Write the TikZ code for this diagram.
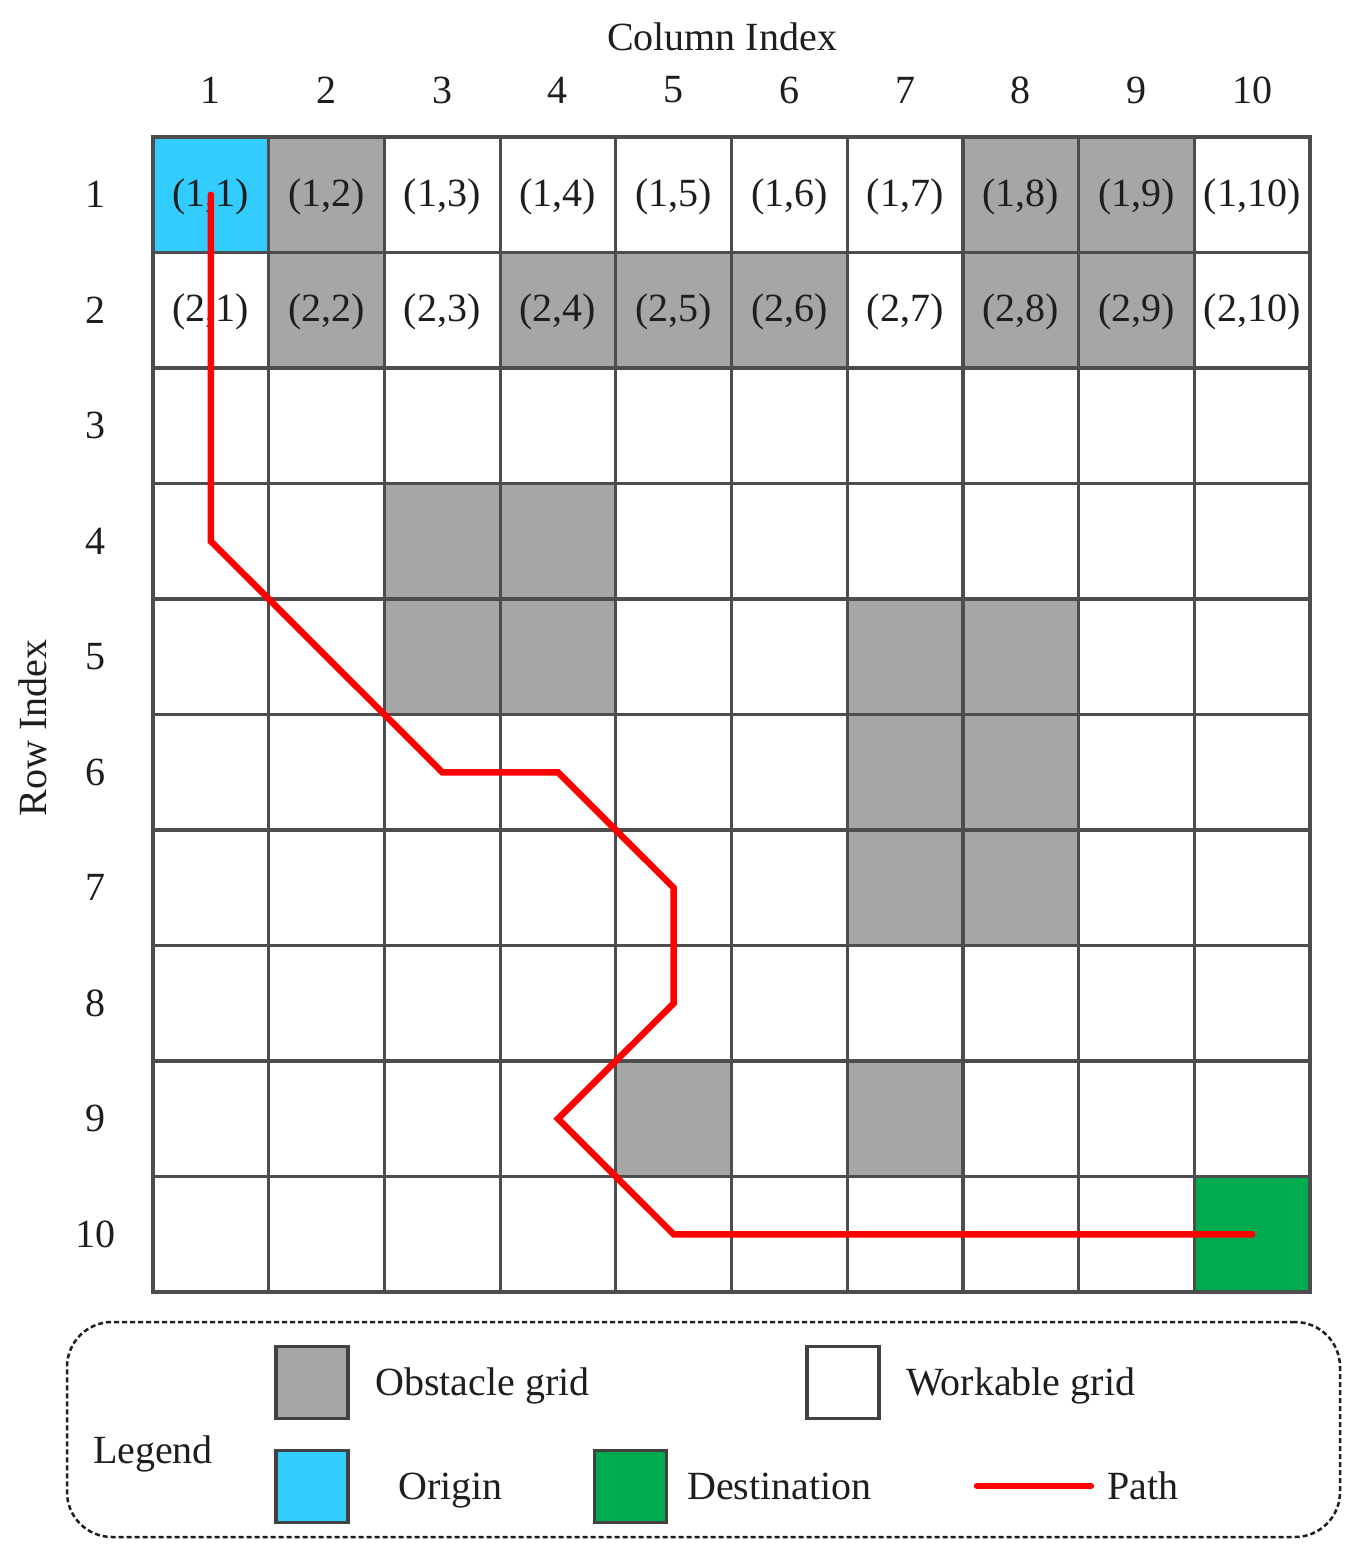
\documentclass[tikz,border=0pt]{standalone}
\usepackage{fontspec}
\setmainfont{Liberation Serif}
\definecolor{obst}{HTML}{A6A6A6}
\definecolor{orig}{HTML}{33CCFF}
\definecolor{dest}{HTML}{00AA4E}
\definecolor{gline}{HTML}{4D4D4D}
\definecolor{txt}{HTML}{1E1E1E}
\definecolor{pathred}{HTML}{FF0000}
\tikzset{
  cell/.style={draw=gline, line width=3.2pt, minimum width=115.7pt, minimum height=115.5pt, inner sep=0pt, outer sep=0pt, fill=white},
  obstcell/.style={cell, fill=obst},
  origcell/.style={cell, fill=orig},
  destcell/.style={cell, fill=dest},
  lbl/.style={text=txt, font=\fontsize{40}{48}\selectfont, inner sep=0pt},
  legsq/.style={draw=gline!85!black, line width=3.2pt, minimum width=72pt, minimum height=72pt, inner sep=0pt},
  pathline/.style={draw=pathred, line width=6.5pt, line cap=round, line join=miter},
  legbox/.style={draw=txt, line width=2.5pt, dash pattern=on 5pt off 3pt, rounded corners=45pt}
}
\begin{document}
\begin{tikzpicture}[x=1pt, y=-1pt]
\useasboundingbox (0,0) rectangle (1364,1556);
\fill[white] (0,0) rectangle (1364,1556);
% grid cells
\foreach \r in {1,...,10}{
  \foreach \c in {1,...,10}{
    \node[cell] (c-\r-\c) at ({153+115.7*(\c-0.5)},{137+115.5*(\r-0.5)}) {};
  }
}
\foreach \r/\c in {1/2,1/8,1/9,2/2,2/4,2/5,2/6,2/8,2/9,4/3,4/4,5/3,5/4,5/7,5/8,6/7,6/8,7/7,7/8,9/5,9/7}{
  \node[obstcell] (o-\r-\c) at (c-\r-\c.center) {};
}
\node[origcell] (orig) at (c-1-1.center) {};
\node[destcell] (dest) at (c-10-10.center) {};
% cell labels
\foreach \r in {1,2}{
  \foreach \c in {1,...,10}{
    \node[lbl] (t-\r-\c) at ([yshift=-2pt]c-\r-\c.center) {(\r,\c)};
  }
}
% indices
\node[lbl] (colidx) at (722,37) {Column Index};
\foreach \c in {1,...,10}{
  \node[lbl] (cn-\c) at ({153+115.7*(\c-0.5)},90) {\c};
}
\foreach \r in {1,...,10}{
  \node[lbl] (rn-\r) at (95,{137+115.5*(\r-0.5)}) {\r};
}
\node[lbl, rotate=90] (rowidx) at (33,728) {Row Index};
% path
\draw[pathline] (c-1-1.center) -- (c-4-1.center) -- (c-6-3.center) -- (c-6-4.center)
  -- (c-7-5.center) -- (c-8-5.center) -- (c-9-4.center) -- (c-10-5.center) -- (c-10-10.center);
% legend
\node[legbox, minimum width=1273pt, minimum height=215pt, inner sep=0pt] (legend) at (703.5,1429.5) {};
\node[lbl, anchor=base] (legtitle) at (153,1463) {Legend};
\node[legsq, fill=obst] (lobst) at (312,1382.5) {};
\node[lbl, anchor=base west] (lobstt) at (375,1395) {Obstacle grid};
\node[legsq, fill=white] (lwork) at (843,1382.5) {};
\node[lbl, anchor=base west] (lworkt) at (906,1395) {Workable grid};
\node[legsq, fill=orig] (lorig) at (312,1486.5) {};
\node[lbl, anchor=base west] (lorigt) at (398,1499) {Origin};
\node[legsq, fill=dest] (ldest) at (630.5,1486.5) {};
\node[lbl, anchor=base west] (ldestt) at (687,1499) {Destination};
\coordinate (lp1) at (977,1486);
\coordinate (lp2) at (1091,1486);
\draw[pathline] (lp1) -- (lp2);
\node[lbl, anchor=base west] (lpatht) at (1107,1499) {Path};
\end{tikzpicture}
\end{document}
